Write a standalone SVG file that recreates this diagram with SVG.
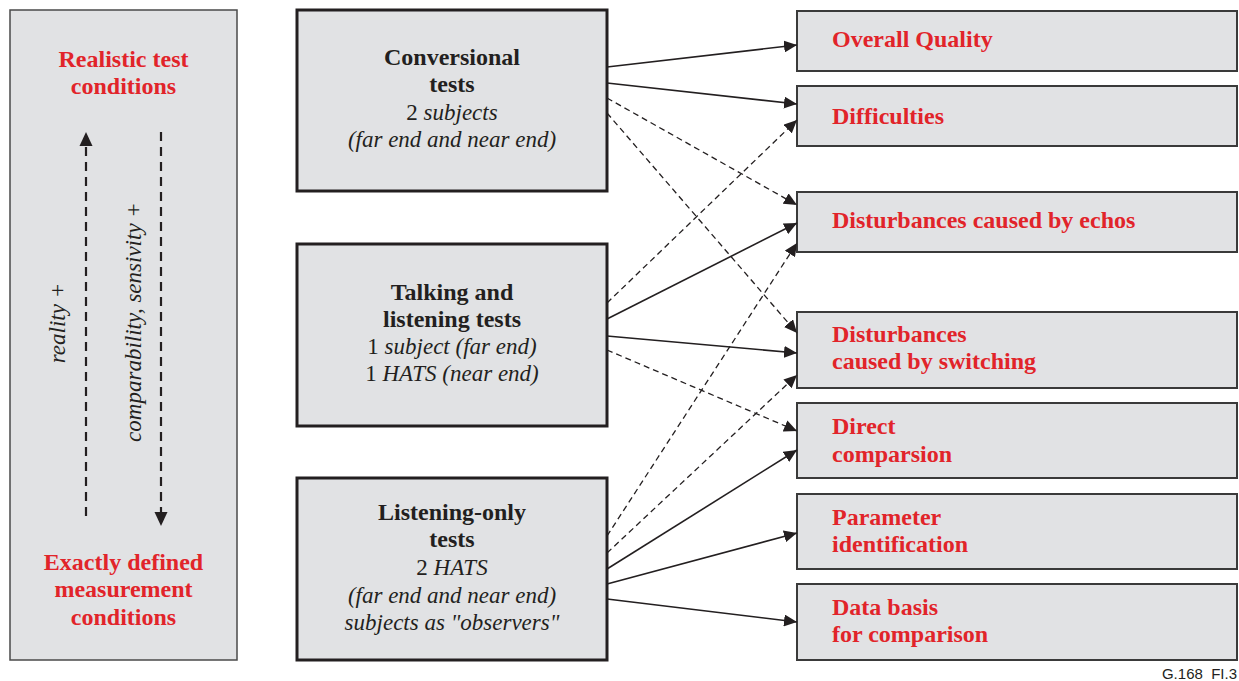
<svg xmlns="http://www.w3.org/2000/svg" width="1239" height="681" viewBox="0 0 1239 681">
<defs>
<marker id="ah" markerUnits="userSpaceOnUse" markerWidth="14" markerHeight="12" refX="13" refY="6" orient="auto">
<path d="M0,0 L13,6 L0,12 z" fill="#231f20"/>
</marker>
</defs>
<style>
.panel{fill:#e1e2e4;stroke:#4a4a4a;stroke-width:1.5}
.test{fill:#e1e2e4;stroke:#231f20;stroke-width:3}
.res{fill:#e1e2e4;stroke:#3a3a3a;stroke-width:2}
.t{font-family:"Liberation Serif","Times New Roman",serif;fill:#231f20}
.b{font-weight:bold;font-size:24px}
.i{font-style:italic;font-size:23px}
.n{font-style:normal}
.red{font-family:"Liberation Serif","Times New Roman",serif;font-weight:bold;font-size:24px;fill:#e1242a}
.c{text-anchor:middle}
.sol{stroke:#231f20;stroke-width:1.6;fill:none;marker-end:url(#ah)}
.das{stroke:#231f20;stroke-width:1.3;fill:none;stroke-dasharray:6 4;marker-end:url(#ah)}
.vd{stroke:#231f20;stroke-width:2.2;fill:none;stroke-dasharray:9 6}
.foot{font-family:"Liberation Sans",Arial,sans-serif;font-size:15px;fill:#231f20;text-anchor:end}
</style>

<g id="scale">
<rect class="panel" x="10" y="10" width="227" height="650"/>
<text class="red c" x="123.5" y="67">Realistic test</text>
<text class="red c" x="123.5" y="94">conditions</text>
<line class="vd" x1="86" y1="516" x2="86" y2="146"/>
<path d="M79.5,146 L86,132 L92.5,146 z" fill="#231f20"/>
<line class="vd" x1="161" y1="132" x2="161" y2="512"/>
<path d="M154.5,512 L161,526 L167.5,512 z" fill="#231f20"/>
<text class="t i c" transform="translate(65,323) rotate(-90)">reality +</text>
<text class="t i c" transform="translate(141,322) rotate(-90)">comparability, sensivity +</text>
<text class="red c" x="123.5" y="570">Exactly defined</text>
<text class="red c" x="123.5" y="597">measurement</text>
<text class="red c" x="123.5" y="625">conditions</text>
</g>

<g id="conversional">
<rect class="test" x="297" y="10" width="310" height="181"/>
<text class="t b c" x="452" y="65">Conversional</text>
<text class="t b c" x="452" y="92">tests</text>
<text class="t i c" x="452" y="120"><tspan class="n">2</tspan> subjects</text>
<text class="t i c" x="452" y="147">(far end and near end)</text>
</g>

<g id="talking">
<rect class="test" x="297" y="244" width="310" height="182"/>
<text class="t b c" x="452" y="300">Talking and</text>
<text class="t b c" x="452" y="327">listening tests</text>
<text class="t i c" x="452" y="354"><tspan class="n">1</tspan> subject (far end)</text>
<text class="t i c" x="452" y="381"><tspan class="n">1</tspan> HATS (near end)</text>
</g>

<g id="listening">
<rect class="test" x="297" y="478" width="310" height="182"/>
<text class="t b c" x="452" y="520">Listening-only</text>
<text class="t b c" x="452" y="547">tests</text>
<text class="t i c" x="452" y="575"><tspan class="n">2</tspan> HATS</text>
<text class="t i c" x="452" y="603">(far end and near end)</text>
<text class="t i c" x="452" y="630">subjects as "observers"</text>
</g>

<g id="overall">
<rect class="res" x="797" y="11" width="440" height="60"/>
<text class="red" x="832" y="47">Overall Quality</text>
</g>
<g id="difficulties">
<rect class="res" x="797" y="86" width="440" height="60"/>
<text class="red" x="832" y="124">Difficulties</text>
</g>
<g id="echos">
<rect class="res" x="797" y="192" width="440" height="60"/>
<text class="red" x="832" y="228">Disturbances caused by echos</text>
</g>
<g id="switching">
<rect class="res" x="797" y="312" width="440" height="76"/>
<text class="red" x="832" y="342">Disturbances</text>
<text class="red" x="832" y="369">caused by switching</text>
</g>
<g id="direct">
<rect class="res" x="797" y="403" width="440" height="75"/>
<text class="red" x="832" y="434">Direct</text>
<text class="red" x="832" y="462">comparsion</text>
</g>
<g id="parameter">
<rect class="res" x="797" y="494" width="440" height="75"/>
<text class="red" x="832" y="525">Parameter</text>
<text class="red" x="832" y="552">identification</text>
</g>
<g id="data">
<rect class="res" x="797" y="584" width="440" height="76"/>
<text class="red" x="832" y="615">Data basis</text>
<text class="red" x="832" y="642">for comparison</text>
</g>

<g id="connectors">
<line class="sol" x1="607" y1="67" x2="797" y2="45"/>
<line class="sol" x1="607" y1="83" x2="797" y2="104"/>
<line class="das" x1="607" y1="98" x2="797" y2="205"/>
<line class="das" x1="607" y1="113" x2="797" y2="333"/>
<line class="das" x1="607" y1="303" x2="797" y2="120"/>
<line class="sol" x1="607" y1="319" x2="797" y2="223"/>
<line class="sol" x1="607" y1="336" x2="797" y2="353"/>
<line class="das" x1="607" y1="350" x2="797" y2="431"/>
<line class="das" x1="607" y1="536" x2="797" y2="243"/>
<line class="das" x1="607" y1="553" x2="797" y2="375"/>
<line class="sol" x1="607" y1="569" x2="797" y2="450"/>
<line class="sol" x1="607" y1="584" x2="797" y2="533"/>
<line class="sol" x1="607" y1="599" x2="797" y2="622"/>
</g>

<text class="foot" x="1237" y="679" xml:space="preserve">G.168  FI.3</text>
</svg>
